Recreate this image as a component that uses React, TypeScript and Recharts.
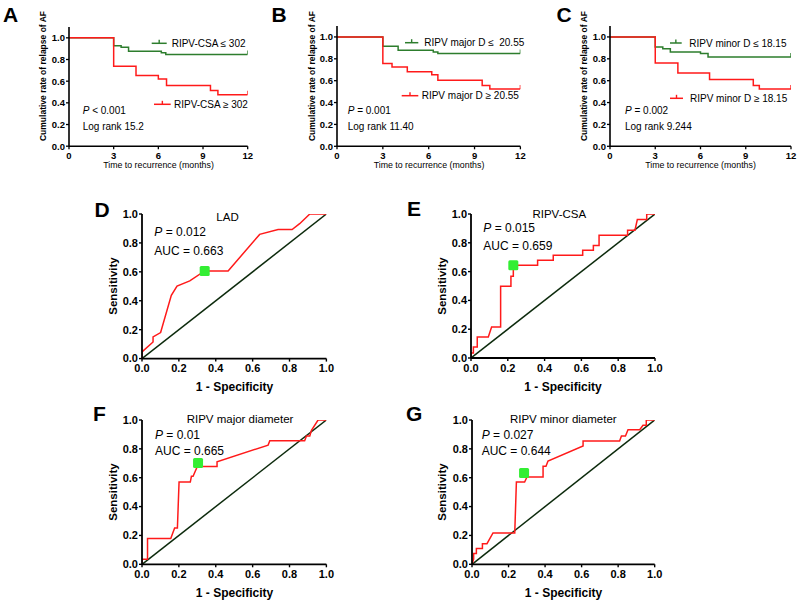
import React from 'react';
import { LineChart, ComposedChart, Line, Scatter, XAxis, YAxis } from 'recharts';

const FONT = '"Liberation Sans", Arial, Helvetica, sans-serif';
const KM_GREEN = '#2d7d2d';
const RED = '#ff1a1a';
const DIAG = '#0c2a0c';
const MARK = '#33ee33';

// ---------- Kaplan-Meier data (event points, step after) ----------
const kmMonthTicks = [0, 3, 6, 9, 12];
const kmYTicks = [0, 0.2, 0.4, 0.6, 0.8, 1.0];

const kmA_low = [
  { x: 0, y: 1 }, { x: 3, y: 0.928 }, { x: 3.5, y: 0.912 }, { x: 4, y: 0.877 },
  { x: 6.2, y: 0.862 }, { x: 6.5, y: 0.846 }, { x: 12, y: 0.846 },
];
const kmA_high = [
  { x: 0, y: 1 }, { x: 3, y: 0.738 }, { x: 4.5, y: 0.652 }, { x: 6.0, y: 0.621 },
  { x: 6.55, y: 0.56 }, { x: 9.5, y: 0.514 }, { x: 10, y: 0.475 }, { x: 12, y: 0.475 },
];
const kmB_low = [
  { x: 0, y: 1 }, { x: 3, y: 0.915 }, { x: 4, y: 0.878 }, { x: 6.3, y: 0.863 },
  { x: 6.6, y: 0.848 }, { x: 12, y: 0.848 },
];
const kmB_high = [
  { x: 0, y: 1 }, { x: 3, y: 0.757 }, { x: 3.6, y: 0.725 }, { x: 4.6, y: 0.681 },
  { x: 6.2, y: 0.655 }, { x: 6.6, y: 0.605 }, { x: 9.5, y: 0.556 }, { x: 10, y: 0.525 },
  { x: 12, y: 0.525 },
];
const kmC_low = [
  { x: 0, y: 1 }, { x: 3, y: 0.909 }, { x: 3.5, y: 0.893 }, { x: 4, y: 0.863 },
  { x: 6, y: 0.848 }, { x: 6.5, y: 0.817 }, { x: 12, y: 0.817 },
];
const kmC_high = [
  { x: 0, y: 1 }, { x: 3, y: 0.762 }, { x: 4.5, y: 0.67 }, { x: 6.6, y: 0.61 },
  { x: 9.5, y: 0.555 }, { x: 9.9, y: 0.524 }, { x: 12, y: 0.524 },
];

// ---------- ROC data ----------
const rocTicks = [0, 0.2, 0.4, 0.6, 0.8, 1.0];
const diagonal = [{ x: 0, y: 0 }, { x: 1, y: 1 }];

const rocLAD = [
  { x: 0, y: 0 }, { x: 0, y: 0.046 }, { x: 0.06, y: 0.115 }, { x: 0.06, y: 0.15 },
  { x: 0.101, y: 0.18 }, { x: 0.159, y: 0.438 }, { x: 0.19, y: 0.502 }, { x: 0.259, y: 0.537 },
  { x: 0.34, y: 0.606 }, { x: 0.467, y: 0.606 }, { x: 0.638, y: 0.859 }, { x: 0.738, y: 0.892 },
  { x: 0.814, y: 0.892 }, { x: 0.855, y: 0.933 }, { x: 0.91, y: 1 }, { x: 1, y: 1 },
];
const rocCSA = [
  { x: 0, y: 0 }, { x: 0, y: 0.035 }, { x: 0.013, y: 0.035 }, { x: 0.013, y: 0.076 },
  { x: 0.034, y: 0.076 }, { x: 0.034, y: 0.146 }, { x: 0.094, y: 0.146 }, { x: 0.112, y: 0.215 },
  { x: 0.161, y: 0.215 }, { x: 0.161, y: 0.498 }, { x: 0.217, y: 0.498 }, { x: 0.217, y: 0.567 },
  { x: 0.23, y: 0.567 }, { x: 0.23, y: 0.644 }, { x: 0.362, y: 0.644 }, { x: 0.362, y: 0.678 },
  { x: 0.447, y: 0.678 }, { x: 0.447, y: 0.713 }, { x: 0.607, y: 0.713 }, { x: 0.607, y: 0.748 },
  { x: 0.665, y: 0.748 }, { x: 0.665, y: 0.782 }, { x: 0.696, y: 0.782 }, { x: 0.696, y: 0.852 },
  { x: 0.851, y: 0.852 }, { x: 0.851, y: 0.887 }, { x: 0.891, y: 0.887 }, { x: 0.904, y: 0.961 },
  { x: 0.955, y: 0.961 }, { x: 0.955, y: 1 }, { x: 1, y: 1 },
];
const rocMajor = [
  { x: 0, y: 0 }, { x: 0, y: 0.035 }, { x: 0.03, y: 0.035 }, { x: 0.03, y: 0.178 },
  { x: 0.156, y: 0.178 }, { x: 0.177, y: 0.252 }, { x: 0.192, y: 0.252 }, { x: 0.201, y: 0.57 },
  { x: 0.262, y: 0.57 }, { x: 0.268, y: 0.61 }, { x: 0.277, y: 0.61 }, { x: 0.3, y: 0.678 },
  { x: 0.407, y: 0.678 }, { x: 0.407, y: 0.71 }, { x: 0.684, y: 0.826 }, { x: 0.693, y: 0.856 },
  { x: 0.882, y: 0.856 }, { x: 0.892, y: 0.889 }, { x: 0.91, y: 0.889 }, { x: 0.919, y: 0.928 },
  { x: 0.955, y: 1 }, { x: 1, y: 1 },
];
const rocMinor = [
  { x: 0, y: 0 }, { x: 0.009, y: 0.035 }, { x: 0.009, y: 0.074 }, { x: 0.024, y: 0.074 },
  { x: 0.024, y: 0.109 }, { x: 0.057, y: 0.109 }, { x: 0.057, y: 0.143 }, { x: 0.082, y: 0.143 },
  { x: 0.115, y: 0.217 }, { x: 0.234, y: 0.217 }, { x: 0.243, y: 0.57 }, { x: 0.288, y: 0.57 },
  { x: 0.301, y: 0.605 }, { x: 0.389, y: 0.605 }, { x: 0.389, y: 0.679 }, { x: 0.405, y: 0.679 },
  { x: 0.416, y: 0.716 }, { x: 0.608, y: 0.82 }, { x: 0.608, y: 0.855 }, { x: 0.808, y: 0.855 },
  { x: 0.818, y: 0.889 }, { x: 0.84, y: 0.889 }, { x: 0.854, y: 0.933 }, { x: 0.918, y: 0.933 },
  { x: 0.936, y: 0.963 }, { x: 0.954, y: 0.963 }, { x: 0.954, y: 1 }, { x: 1, y: 1 },
];
const cutLAD = [{ x: 0.34, y: 0.606 }];
const cutCSA = [{ x: 0.23, y: 0.644 }];
const cutMajor = [{ x: 0.304, y: 0.702 }];
const cutMinor = [{ x: 0.285, y: 0.633 }];

// ---------- layout ----------
type Rect = { x0: number; x1: number; yTop: number; yBot: number };
const YW = 40, MT = 8, MR = 12, XH = 26;

function frame(r: Rect) {
  return {
    style: { position: 'absolute' as const, left: r.x0 - YW, top: r.yTop - MT },
    width: YW + (r.x1 - r.x0) + MR,
    height: MT + (r.yBot - r.yTop) + XH,
  };
}

const endTick = (n: number, color: string) => (p: any) => {
  if (p.index !== n - 1) return <g key={`d${p.index}`} />;
  return <line key={`d${p.index}`} x1={p.cx} x2={p.cx} y1={p.cy} y2={p.cy - 4} stroke={color} strokeWidth={1.4} />;
};

function KM({ r, low, high }: { r: Rect; low: any[]; high: any[] }) {
  const f = frame(r);
  const tick = { fill: '#000', fontSize: 9.5, fontWeight: 'bold', fontFamily: FONT };
  return (
    <div style={f.style}>
      <LineChart width={f.width} height={f.height} margin={{ top: MT, right: MR, left: 0, bottom: 0 }}>
        <XAxis type="number" dataKey="x" domain={[0, 12]} ticks={kmMonthTicks} interval={0} height={XH}
          axisLine={{ stroke: '#000', strokeWidth: 1.6 }} tickLine={{ stroke: '#000', strokeWidth: 1.3 }}
          tickSize={3} tickMargin={3} tick={tick} allowDataOverflow />
        <YAxis type="number" domain={[0, 1.1]} ticks={kmYTicks} interval={0} width={YW}
          axisLine={{ stroke: '#000', strokeWidth: 1.6 }} tickLine={{ stroke: '#000', strokeWidth: 1.3 }}
          tickSize={3} tickMargin={1} tick={tick} tickFormatter={(v: number) => v.toFixed(1)} allowDataOverflow />
        <Line data={low} dataKey="y" type="stepAfter" stroke={KM_GREEN} strokeWidth={1.5}
          dot={endTick(low.length, KM_GREEN)} activeDot={false} isAnimationActive={false} />
        <Line data={high} dataKey="y" type="stepAfter" stroke={RED} strokeWidth={1.5}
          dot={endTick(high.length, RED)} activeDot={false} isAnimationActive={false} />
      </LineChart>
    </div>
  );
}

function ROC({ r, curve, cut }: { r: Rect; curve: any[]; cut: any[] }) {
  const f = frame(r);
  const tick = { fill: '#000', fontSize: 11, fontWeight: 'bold', fontFamily: FONT };
  return (
    <div style={f.style}>
      <ComposedChart width={f.width} height={f.height} margin={{ top: MT, right: MR, left: 0, bottom: 0 }}>
        <XAxis type="number" dataKey="x" domain={[0, 1]} ticks={rocTicks} interval={0} height={XH}
          axisLine={{ stroke: '#000', strokeWidth: 1.8 }} tickLine={{ stroke: '#000', strokeWidth: 1.4 }}
          tickSize={3} tickMargin={3} tick={tick} tickFormatter={(v: number) => v.toFixed(1)} allowDataOverflow />
        <YAxis type="number" domain={[0, 1]} ticks={rocTicks} interval={0} width={YW}
          axisLine={{ stroke: '#000', strokeWidth: 1.8 }} tickLine={{ stroke: '#000', strokeWidth: 1.4 }}
          tickSize={3} tickMargin={1} tick={tick} tickFormatter={(v: number) => v.toFixed(1)} allowDataOverflow />
        <Line data={diagonal} dataKey="y" type="linear" stroke={DIAG} strokeWidth={1.5} dot={false}
          activeDot={false} isAnimationActive={false} />
        <Line data={curve} dataKey="y" type="linear" stroke={RED} strokeWidth={1.5} dot={false}
          activeDot={false} isAnimationActive={false} />
        <Scatter data={cut} dataKey="y" isAnimationActive={false}
          shape={(p: any) => <rect x={p.cx - 5} y={p.cy - 5} width={10} height={10} rx={1.5} fill={MARK} />} />
      </ComposedChart>
    </div>
  );
}

const rA: Rect = { x0: 69, x1: 247.7, yTop: 26.5, yBot: 145.7 };
const rB: Rect = { x0: 337.3, x1: 520.7, yTop: 26.4, yBot: 146.7 };
const rC: Rect = { x0: 610, x1: 791, yTop: 26.4, yBot: 146.7 };
const rD: Rect = { x0: 142.3, x1: 326.7, yTop: 213.7, yBot: 358.3 };
const rE: Rect = { x0: 471, x1: 655, yTop: 213.7, yBot: 357.7 };
const rF: Rect = { x0: 142.3, x1: 326.7, yTop: 419.7, yBot: 564 };
const rG: Rect = { x0: 472.3, x1: 655, yTop: 419.7, yBot: 564 };

function LegendSample({ x1, x2, y, color }: { x1: number; x2: number; y: number; color: string }) {
  const m = (x1 + x2) / 2;
  return (
    <g>
      <line x1={x1} x2={x2} y1={y} y2={y} stroke={color} strokeWidth={1.5} />
      <line x1={m} x2={m} y1={y} y2={y - 3.5} stroke={color} strokeWidth={1.4} />
    </g>
  );
}

function Overlay() {
  const letter = { fontFamily: FONT, fontWeight: 'bold' as const, fontSize: 21, fill: '#000' };
  const kmT = { fontFamily: FONT, fontSize: 10, fill: '#000' };
  const kmY = { fontFamily: FONT, fontSize: 8.5, fontWeight: 'bold' as const, fill: '#000' };
  const kmX = { fontFamily: FONT, fontSize: 8.8, fill: '#000' };
  const rT = { fontFamily: FONT, fontSize: 12, fill: '#000' };
  const rAx = { fontFamily: FONT, fontSize: 12, fontWeight: 'bold' as const, fill: '#000' };
  const kmYLabel = 'Cumulative rate of relapse of AF';
  const kmXLabel = 'Time to recurrence (months)';
  return (
    <svg width={800} height={604} style={{ position: 'absolute', left: 0, top: 0, pointerEvents: 'none' }}>
      {/* letters */}
      <text x={3} y={21.7} {...letter}>A</text>
      <text x={271.5} y={21.7} {...letter}>B</text>
      <text x={556.5} y={21.7} {...letter}>C</text>
      <text x={94.5} y={216.7} {...letter}>D</text>
      <text x={407} y={215.5} {...letter}>E</text>
      <text x={93} y={420.5} {...letter}>F</text>
      <text x={406} y={421} {...letter}>G</text>

      {/* KM axis titles */}
      <text transform="rotate(-90 43.3 76)" x={43.3} y={76} textAnchor="middle" dominantBaseline="central" {...kmY}>{kmYLabel}</text>
      <text transform="rotate(-90 311.5 76)" x={311.5} y={76} textAnchor="middle" dominantBaseline="central" {...kmY}>{kmYLabel}</text>
      <text transform="rotate(-90 584 76)" x={584} y={76} textAnchor="middle" dominantBaseline="central" {...kmY}>{kmYLabel}</text>
      <text x={158.5} y={168} textAnchor="middle" {...kmX}>{kmXLabel}</text>
      <text x={429} y={168} textAnchor="middle" {...kmX}>{kmXLabel}</text>
      <text x={700.5} y={168} textAnchor="middle" {...kmX}>{kmXLabel}</text>

      {/* KM A annotations */}
      <LegendSample x1={151.7} x2={166.7} y={43.3} color={KM_GREEN} />
      <text x={171.7} y={46.8} {...kmT}>RIPV-CSA ≤ 302</text>
      <LegendSample x1={154} x2={170.7} y={104.3} color={RED} />
      <text x={174} y={107.8} {...kmT}>RIPV-CSA ≥ 302</text>
      <text x={82.7} y={113.5} {...kmT}><tspan fontStyle="italic">P</tspan> &lt; 0.001</text>
      <text x={82.7} y={129.5} {...kmT}>Log rank 15.2</text>

      {/* KM B annotations */}
      <LegendSample x1={405} x2={418.3} y={42.7} color={KM_GREEN} />
      <text x={424.3} y={46.2} {...kmT} style={{ whiteSpace: 'pre' }}>RIPV major D ≤  20.55</text>
      <LegendSample x1={401.7} x2={418.3} y={95.7} color={RED} />
      <text x={421.7} y={99.2} {...kmT}>RIPV major D ≥ 20.55</text>
      <text x={347.7} y={113.5} {...kmT}><tspan fontStyle="italic">P</tspan> = 0.001</text>
      <text x={347.7} y={129.5} {...kmT}>Log rank 11.40</text>

      {/* KM C annotations */}
      <LegendSample x1={670} x2={681.7} y={43} color={KM_GREEN} />
      <text x={689.3} y={46.5} {...kmT}>RIPV minor D ≤ 18.15</text>
      <LegendSample x1={670} x2={683} y={98.3} color={RED} />
      <text x={690} y={101.8} {...kmT}>RIPV minor D ≥ 18.15</text>
      <text x={625} y={113.5} {...kmT}><tspan fontStyle="italic">P</tspan> = 0.002</text>
      <text x={625} y={129.5} {...kmT}>Log rank 9.244</text>

      {/* ROC axis titles */}
      <text transform="rotate(-90 113.3 286)" x={113.3} y={286} textAnchor="middle" dominantBaseline="central" {...rAx} fontSize={11.5}>Sensitivity</text>
      <text transform="rotate(-90 441.7 286)" x={441.7} y={286} textAnchor="middle" dominantBaseline="central" {...rAx} fontSize={11.5}>Sensitivity</text>
      <text transform="rotate(-90 113.3 492)" x={113.3} y={492} textAnchor="middle" dominantBaseline="central" {...rAx} fontSize={11.5}>Sensitivity</text>
      <text transform="rotate(-90 441.7 492)" x={441.7} y={492} textAnchor="middle" dominantBaseline="central" {...rAx} fontSize={11.5}>Sensitivity</text>
      <text x={234.5} y={391} textAnchor="middle" {...rAx}>1 - Specificity</text>
      <text x={563} y={391} textAnchor="middle" {...rAx}>1 - Specificity</text>
      <text x={234.5} y={597} textAnchor="middle" {...rAx}>1 - Specificity</text>
      <text x={563.5} y={597} textAnchor="middle" {...rAx}>1 - Specificity</text>

      {/* ROC annotations */}
      <text x={227.5} y={221} textAnchor="middle" {...rT} fontSize={11.5}>LAD</text>
      <text x={154.3} y={236} {...rT}><tspan fontStyle="italic">P</tspan> = 0.012</text>
      <text x={154.3} y={255.3} {...rT}>AUC = 0.663</text>

      <text x={559.3} y={218.3} textAnchor="middle" {...rT} fontSize={11.5}>RIPV-CSA</text>
      <text x={483.3} y={231.6} {...rT}><tspan fontStyle="italic">P</tspan> = 0.015</text>
      <text x={483.3} y={250.3} {...rT}>AUC = 0.659</text>

      <text x={240} y={423.3} textAnchor="middle" {...rT} fontSize={11.5}>RIPV major diameter</text>
      <text x={155} y={438.6} {...rT}><tspan fontStyle="italic">P</tspan> = 0.01</text>
      <text x={155} y={455.3} {...rT}>AUC = 0.665</text>

      <text x={563.3} y={423.3} textAnchor="middle" {...rT} fontSize={11.5}>RIPV minor diameter</text>
      <text x={481.7} y={438.6} {...rT}><tspan fontStyle="italic">P</tspan> = 0.027</text>
      <text x={481.7} y={455.3} {...rT}>AUC = 0.644</text>
    </svg>
  );
}

export default function App() {
  return (
    <div style={{ position: 'absolute', left: 0, top: 0, width: 800, height: 604, background: '#fff', overflow: 'hidden' }}>
      <KM r={rA} low={kmA_low} high={kmA_high} />
      <KM r={rB} low={kmB_low} high={kmB_high} />
      <KM r={rC} low={kmC_low} high={kmC_high} />
      <ROC r={rD} curve={rocLAD} cut={cutLAD} />
      <ROC r={rE} curve={rocCSA} cut={cutCSA} />
      <ROC r={rF} curve={rocMajor} cut={cutMajor} />
      <ROC r={rG} curve={rocMinor} cut={cutMinor} />
      <Overlay />
    </div>
  );
}
